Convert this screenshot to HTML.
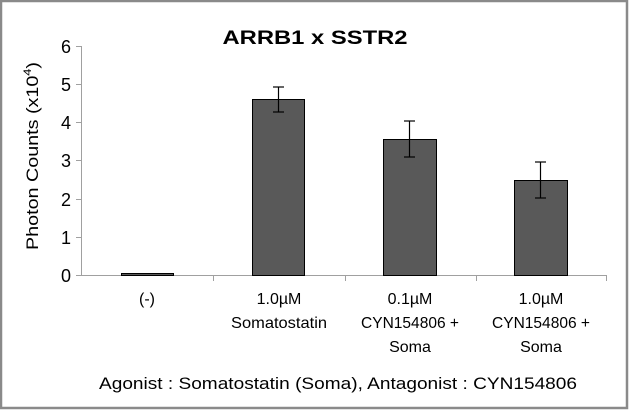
<!DOCTYPE html><html><head><style>body{margin:0}svg{display:block}</style></head><body>
<svg width="629" height="410" xmlns="http://www.w3.org/2000/svg" font-family="Liberation Sans, sans-serif">
<rect x="0" y="0" width="629" height="410" fill="#fff"/>
<rect x="1" y="1" width="626" height="407" fill="none" stroke="#8a8a8a" stroke-width="2.5"/>
<text x="315" y="44" text-anchor="middle" font-size="19" font-weight="bold" textLength="185" lengthAdjust="spacingAndGlyphs">ARRB1 x SSTR2</text>
<g stroke="#a0a0a0" stroke-width="1">
<line x1="81.5" y1="46" x2="81.5" y2="275"/>
<line x1="76" y1="46.5" x2="81" y2="46.5"/><line x1="76" y1="84.5" x2="81" y2="84.5"/><line x1="76" y1="122.5" x2="81" y2="122.5"/><line x1="76" y1="160.5" x2="81" y2="160.5"/><line x1="76" y1="199.5" x2="81" y2="199.5"/><line x1="76" y1="237.5" x2="81" y2="237.5"/>
<line x1="76" y1="275.5" x2="606" y2="275.5"/>
<line x1="213.5" y1="275" x2="213.5" y2="281"/><line x1="345.5" y1="275" x2="345.5" y2="281"/><line x1="476.5" y1="275" x2="476.5" y2="281"/><line x1="606.5" y1="275" x2="606.5" y2="281"/>
</g>
<g font-size="18" text-anchor="end"><text x="71" y="53">6</text><text x="71" y="91">5</text><text x="71" y="129">4</text><text x="71" y="167">3</text><text x="71" y="206">2</text><text x="71" y="244">1</text><text x="71" y="282">0</text></g>
<text transform="translate(38,250) rotate(-90)" font-size="17" textLength="188" lengthAdjust="spacingAndGlyphs">Photon Counts (x10<tspan font-size="11" dy="-7">4</tspan><tspan dy="7">)</tspan></text>
<g fill="#595959" stroke="#000" stroke-width="1">
<rect x="121.5" y="273.5" width="52" height="2"/>
<rect x="252.5" y="99.5" width="52" height="176"/>
<rect x="383.5" y="139.5" width="53" height="136"/>
<rect x="514.5" y="180.5" width="53" height="95"/>
</g>
<g stroke="#000" stroke-width="1.2">
<line x1="278.5" y1="87" x2="278.5" y2="112"/><line x1="273" y1="87" x2="284" y2="87"/><line x1="273" y1="112" x2="284" y2="112"/>
<line x1="409.5" y1="121" x2="409.5" y2="157"/><line x1="404" y1="121" x2="415" y2="121"/><line x1="404" y1="157" x2="415" y2="157"/>
<line x1="540.5" y1="162" x2="540.5" y2="198"/><line x1="535" y1="162" x2="546" y2="162"/><line x1="535" y1="198" x2="546" y2="198"/>
</g>
<g font-size="16" text-anchor="middle">
<text x="147" y="304">(-)</text>
<text x="279" y="304">1.0µM</text><text x="279" y="328" textLength="96" lengthAdjust="spacingAndGlyphs">Somatostatin</text>
<text x="410" y="304">0.1µM</text><text x="410" y="328" textLength="98" lengthAdjust="spacingAndGlyphs">CYN154806 +</text><text x="410" y="352">Soma</text>
<text x="541" y="304">1.0µM</text><text x="541" y="328" textLength="98" lengthAdjust="spacingAndGlyphs">CYN154806 +</text><text x="541" y="352">Soma</text>
</g>
<text x="99" y="389" font-size="17" textLength="478" lengthAdjust="spacingAndGlyphs">Agonist : Somatostatin (Soma),  Antagonist : CYN154806</text>
</svg></body></html>
